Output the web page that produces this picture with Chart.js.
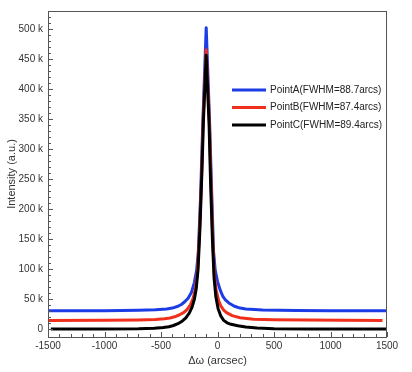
<!DOCTYPE html>
<html>
<head>
<meta charset="utf-8">
<script src="https://cdn.jsdelivr.net/npm/chart.js@4"></script>
<style>
  html, body { margin: 0; padding: 0; background: #fff; }
  #wrap { width: 412px; height: 372px; position: relative; }
</style>
</head>
<body>
<div id="wrap"><canvas id="xrc"></canvas></div>
<script>
// rocking curve data (x in arcsec, y in counts/1000)
const labels = ['PointA(FWHM=88.7arcs)', 'PointB(FWHM=87.4arcs)', 'PointC(FWHM=89.4arcs)'];
const colors = ['rgb(28,60,230)', 'rgb(240,48,28)', '#000000'];

const aX = [-1500,-1000,-700,-550,-450,-400,-350,-320,-290,-260,-230,-205,-185,-170,-150,-130,-100,-70,-50,-35,-20,0,25,45,70,100,150,200,250,400,700,1000,1500];
const aY = [31,31.2,31.8,32.6,34,35.5,38.5,41.5,46,52,62,78,98,128,220,345,503,345,220,130,98,80,65,56,49,44,38.5,35.5,34,32.4,31.5,31.2,31];

const bX = [-1500,-1000,-700,-550,-470,-420,-380,-340,-300,-270,-240,-215,-195,-178,-160,-140,-128,-100,-72,-58,-42,-28,-12,10,30,55,80,130,200,320,500,800,1100,1460];
const bY = [15,15.2,15.8,16.5,17.6,19,21,24,28,33,41,52,68,95,160,260,345,466,345,250,150,90,66,48,39,32,28,23,19.5,17,16,15.5,15.2,15];

const cX = [-1475,-1000,-700,-560,-480,-430,-390,-350,-310,-280,-250,-225,-205,-188,-172,-155,-135,-125,-100,-75,-62,-45,-30,-15,5,30,55,85,120,180,250,350,500,800,1500];
const cY = [0.5,0.6,1,1.8,3,4.5,6.5,9.5,14,19,27,37,50,68,100,170,280,345,457,345,250,150,85,55,35,22,15,11,8.5,6,4,2.5,1.2,0.6,0.5];

const xTicks = [-1500, -1000, -500, 0, 500, 1000, 1500];
const yTicks = [0, 50, 100, 150, 200, 250, 300, 350, 400, 450, 500];

function pts(xs, ys) {
  return xs.map((x, i) => ({ x: x, y: ys[i] * 1000 }));
}

const series = [pts(aX, aY), pts(bX, bY), pts(cX, cY)];

// frame, inward ticks and legend drawn on top of the plot
const framePlugin = {
  id: 'frame',
  afterDraw(chart) {
    const ctx = chart.ctx;
    const a = chart.chartArea;
    const xs = chart.scales.x, ys = chart.scales.y;
    ctx.save();
    ctx.strokeStyle = '#555';
    ctx.lineWidth = 1;
    ctx.strokeRect(a.left + 0.5, a.top + 0.5, a.right - a.left - 1, a.bottom - a.top);

    ctx.beginPath();
    for (let v = -1500; v <= 1500; v += 100) {
      const px = Math.round(xs.getPixelForValue(v)) + 0.5;
      const len = v % 500 === 0 ? 5 : 3;
      ctx.moveTo(px, a.bottom);
      ctx.lineTo(px, a.bottom - len);
    }
    for (let v = 0; v <= 520000; v += 10000) {
      const py = Math.round(ys.getPixelForValue(v)) + 0.5;
      const len = v % 50000 === 0 ? 5 : 3;
      ctx.moveTo(a.left, py);
      ctx.lineTo(a.left + len, py);
    }
    ctx.stroke();

    // legend
    ctx.font = '10px "Liberation Sans", Arial, sans-serif';
    ctx.textBaseline = 'middle';
    ctx.textAlign = 'left';
    chart.data.datasets.forEach((ds, i) => {
      const y = a.top + 79 + i * 17.5;
      ctx.strokeStyle = ds.borderColor;
      ctx.lineWidth = 3;
      ctx.beginPath();
      ctx.moveTo(a.left + 184, y);
      ctx.lineTo(a.left + 218, y);
      ctx.stroke();
      ctx.fillStyle = '#222';
      ctx.fillText(ds.label, a.left + 222, y);
    });
    ctx.restore();
  }
};

const tickFont = { family: '"Liberation Sans", Arial, sans-serif', size: 10 };

new Chart(document.getElementById('xrc'), {
  type: 'line',
  data: {
    datasets: series.map((d, i) => ({
      label: labels[i],
      data: d,
      borderColor: colors[i],
      backgroundColor: colors[i],
      borderWidth: 3,
      pointRadius: 0,
      tension: 0,
      borderJoinStyle: 'round',
      order: 3 - i
    }))
  },
  options: {
    responsive: true,
    maintainAspectRatio: false,
    animation: false,
    layout: { padding: { top: 7, right: 25, left: 0, bottom: 0 } },
    plugins: {
      legend: { display: false },
      tooltip: { enabled: false }
    },
    scales: {
      x: {
        type: 'linear',
        min: -1500,
        max: 1500,
        grid: { display: false, drawTicks: false },
        border: { display: false },
        afterBuildTicks: s => { s.ticks = xTicks.map(v => ({ value: v })); },
        afterFit: s => { s.height = 35; },
        ticks: { font: tickFont, color: '#333', padding: 3, maxRotation: 0, callback: v => String(v) },
        title: {
          display: true,
          text: 'Δω (arcsec)',
          font: { family: '"Liberation Sans", Arial, sans-serif', size: 11 },
          color: '#333',
          padding: { top: 0, bottom: 4 }
        }
      },
      y: {
        type: 'linear',
        min: -12700,
        max: 530800,
        grid: { display: false, drawTicks: false },
        border: { display: false },
        afterBuildTicks: s => { s.ticks = yTicks.map(v => ({ value: v * 1000 })); },
        afterFit: s => { s.width = 48; },
        ticks: {
          font: tickFont,
          color: '#333',
          padding: 5,
          callback: v => v === 0 ? '0' : (v / 1000) + ' k'
        },
        title: {
          display: true,
          text: 'Intensity (a.u.)',
          font: { family: '"Liberation Sans", Arial, sans-serif', size: 11 },
          color: '#333',
          padding: { top: 5, bottom: 0 }
        }
      }
    }
  },
  plugins: [framePlugin]
});
</script>
</body>
</html>
